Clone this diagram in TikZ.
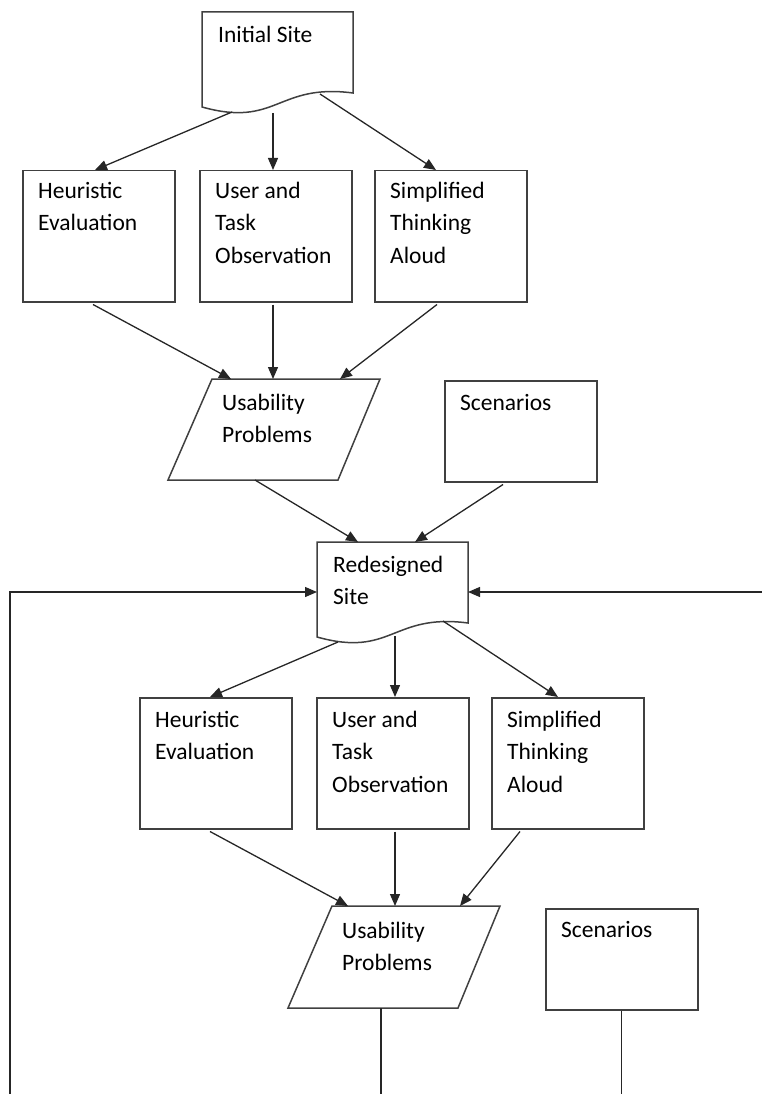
\documentclass[tikz,border=0pt]{standalone}
\usepackage{fontspec}
\setmainfont{Carlito}
\usetikzlibrary{arrows.meta,calc}
\newcommand\mystrut{\rule{0pt}{18pt}}
\begin{document}
\begin{tikzpicture}[x=1pt,y=-1pt,
  shapeline/.style={draw=black!75, line width=1.5pt, line join=miter},
  box/.style={shapeline, rectangle, anchor=north west, inner sep=0pt,
    minimum width=#1pt},
  bigbox/.style={box=152, minimum height=131pt},
  scenbox/.style={box=152, minimum height=101pt},
  txt/.style={anchor=north west, inner sep=0pt, align=left,
    font=\fontsize{23.5}{32.5}\selectfont},
  conn/.style={draw=black!85, line width=1.3pt},
  arr/.style={conn, -{Triangle[length=12pt,width=10pt]}}]
\useasboundingbox (0,0) rectangle (762,1094);

% ---- Initial Site (document shape)
\draw[shapeline] (202,107) -- (202,12) -- (353,12) -- (353,93)
  .. controls (277,83) and (277,128) .. (202,107) -- cycle;
\coordinate (is-l) at (232,112);
\coordinate (is-m) at (273,113);
\coordinate (is-r) at (320,94);
\node[txt] (t-is) at (218,24) {\mystrut Initial Site};

% ---- Row 1 boxes
\node[bigbox] (h1) at (22,170) {};
\node[bigbox] (u1) at (199,170) {};
\node[bigbox] (s1) at (374,170) {};
\node[txt] (t-h1) at (38,180) {\mystrut Heuristic\\Evaluation};
\node[txt] (t-u1) at (215,180) {\mystrut User and\\Task\\Observation};
\node[txt] (t-s1) at (390,180) {\mystrut Simplified\\Thinking\\Aloud};

\draw[arr] (is-l) -- ($(h1.north west)+(73,0)$);
\draw[arr] (is-m) -- ($(u1.north west)+(74,0)$);
\draw[arr] (is-r) -- ($(s1.north west)+(62,0)$);

% ---- Usability Problems 1 (parallelogram)
\draw[shapeline] (212,379) -- (380,379) -- (338,480) -- (168,480) -- cycle;
\coordinate (up1-a) at (231,379);
\coordinate (up1-b) at (273,379);
\coordinate (up1-c) at (340,379);
\coordinate (up1-out) at (255,480);
\node[txt] (t-up1) at (222,392) {\mystrut Usability\\Problems};

\draw[arr] ($(h1.south west)+(71,2)$) -- (up1-a);
\draw[arr] ($(u1.south west)+(74,2)$) -- (up1-b);
\draw[arr] ($(s1.south west)+(63,2)$) -- (up1-c);

% ---- Scenarios 1
\node[scenbox] (sc1) at (444,380) {};
\node[txt] (t-sc1) at (460,392) {\mystrut Scenarios};

% ---- Redesigned Site (document shape)
\draw[shapeline] (317,637) -- (317,542) -- (468,542) -- (468,623)
  .. controls (392,613) and (392,658) .. (317,637) -- cycle;
\coordinate (rs-in1) at (358,542);
\coordinate (rs-in2) at (415,542);
\coordinate (rs-w) at (317,592);
\coordinate (rs-e) at (468,592);
\coordinate (rs-l) at (338,642);
\coordinate (rs-m) at (395,636);
\coordinate (rs-r) at (443,621);
\node[txt] (t-rs) at (333,554) {\mystrut Redesigned\\Site};

\draw[arr] (up1-out) -- (rs-in1);
\draw[arr] ($(sc1.south west)+(59,2)$) -- (rs-in2);

% ---- feedback loops
\coordinate (loop-lb) at (10,1094);
\coordinate (loop-lt) at (10,592);
\coordinate (loop-r) at (762,592);
\draw[arr] (loop-lb) -- (loop-lt) -- (rs-w);
\draw[arr] (loop-r) -- (rs-e);

% ---- Row 2 boxes
\node[bigbox] (h2) at (139,697) {};
\node[bigbox] (u2) at (316,697) {};
\node[bigbox] (s2) at (491,697) {};
\node[txt] (t-h2) at (155,709) {\mystrut Heuristic\\Evaluation};
\node[txt] (t-u2) at (332,709) {\mystrut User and\\Task\\Observation};
\node[txt] (t-s2) at (507,709) {\mystrut Simplified\\Thinking\\Aloud};

\draw[arr] (rs-l) -- ($(h2.north west)+(71,0)$);
\draw[arr] (rs-m) -- ($(u2.north west)+(79,0)$);
\draw[arr] (rs-r) -- ($(s2.north west)+(67,0)$);

% ---- Usability Problems 2 (parallelogram)
\draw[shapeline] (332,906) -- (500,906) -- (458,1008) -- (288,1008) -- cycle;
\coordinate (up2-a) at (348,906);
\coordinate (up2-b) at (395,906);
\coordinate (up2-c) at (460,906);
\coordinate (up2-out) at (381,1008);
\node[txt] (t-up2) at (342,920) {\mystrut Usability\\Problems};

\draw[arr] ($(h2.south west)+(71,2)$) -- (up2-a);
\draw[arr] ($(u2.south west)+(79,2)$) -- (up2-b);
\draw[arr] ($(s2.south west)+(29,2)$) -- (up2-c);
\draw[conn] (up2-out) -- (up2-out |- loop-lb);

% ---- Scenarios 2
\node[scenbox] (sc2) at (545,908) {};
\node[txt] (t-sc2) at (561,919) {\mystrut Scenarios};
\draw[conn] (sc2.south) -- (sc2.south |- loop-lb);
\end{tikzpicture}
\end{document}
